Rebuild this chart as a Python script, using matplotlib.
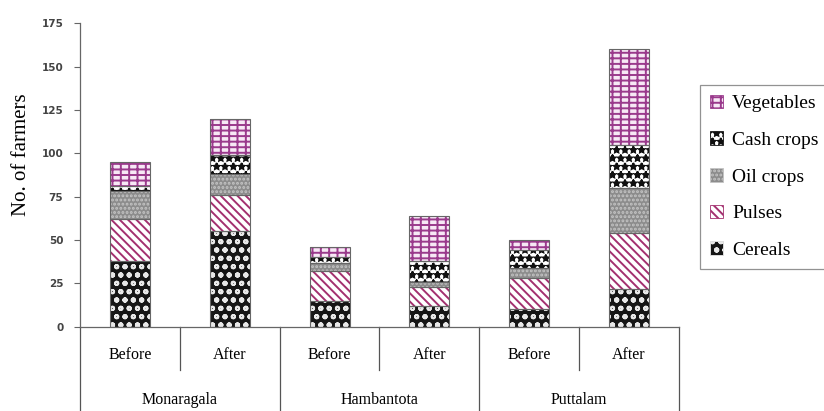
import matplotlib.pyplot as plt
import matplotlib as mpl
from matplotlib.patches import Patch

mpl.rcParams['hatch.linewidth'] = 1.4

# farmers per crop group, Before / After for each district
districts = ['Monaragala', 'Hambantota', 'Puttalam']
periods = ['Before', 'After']
cereals = [38, 55, 15, 12, 10, 22]
pulses = [24, 21, 17, 11, 18, 32]
oil_crops = [16, 12, 5, 3, 6, 26]
cash_crops = [3, 11, 3, 12, 10, 25]
vegetables = [14, 21, 6, 26, 6, 55]

# name, values, face, hatch, hatch colour
series = [
    ('Cereals', cereals, '#151515', 'oo', '#e8e8e8'),
    ('Pulses', pulses, 'white', '\\\\\\\\', '#a3306f'),
    ('Oil crops', oil_crops, '#8c8c8c', '....', '#c4c4c4'),
    ('Cash crops', cash_crops, 'white', '**', '#101010'),
    ('Vegetables', vegetables, '#f7e8f5', '++-', '#9a3a8c'),
]

serif = 'Liberation Serif'

fig = plt.figure(figsize=(8.24, 4.11), dpi=100)
ax = fig.add_axes([80 / 824, 84.3 / 411, 599 / 824, 303.4 / 411])

x = list(range(len(cereals)))
bottom = [0] * len(x)
handles = []
for name, vals, face, hatch, hc in series:
    ax.bar(x, vals, width=0.4, bottom=bottom, color=face, hatch=hatch,
           edgecolor=hc, linewidth=0, zorder=2)
    ax.bar(x, vals, width=0.4, bottom=bottom, fill=False,
           edgecolor='#666666', linewidth=0.8, zorder=3)
    bottom = [b + v for b, v in zip(bottom, vals)]
    handles.append(Patch(facecolor=face, hatch=hatch, edgecolor=hc, linewidth=0.6, label=name))

ax.set_xlim(-0.5, len(x) - 0.5)
ax.set_ylim(0, 175)
ax.set_yticks(range(0, 176, 25))
ax.tick_params(axis='y', length=4, width=0.8, color='#666666', pad=8,
               labelsize=7.5, labelcolor='#444444')
for lab in ax.get_yticklabels():
    lab.set_fontweight('bold')
ax.set_xticks([])
for s in ['top', 'right']:
    ax.spines[s].set_visible(False)
for s in ['left', 'bottom']:
    ax.spines[s].set_color('#666666')
    ax.spines[s].set_linewidth(0.9)

ax.set_ylabel('No. of farmers', family=serif, fontsize=15)
ax.yaxis.set_label_coords(-0.082, 0.566)

# two-level category table under the axis
trans = ax.get_xaxis_transform()
for i in range(len(x) + 1):
    low = -0.278 if i % 2 == 0 else -0.143
    ax.plot([i - 0.5, i - 0.5], [0, low], transform=trans, color='#555555',
            linewidth=0.9, clip_on=False)
for i in x:
    ax.text(i, -0.093, periods[i % 2], transform=trans, ha='center', va='center',
            family=serif, fontsize=11.5)
for j, d in enumerate(districts):
    ax.text(2 * j + 0.5, -0.243, d, transform=trans, ha='center', va='center',
            family=serif, fontsize=11.5)

leg = fig.legend(handles[::-1], [h.get_label() for h in handles[::-1]],
                 loc='upper left', bbox_to_anchor=(700 / 824, 1 - 85 / 411),
                 prop={'family': serif, 'size': 14}, frameon=True, fancybox=False,
                 edgecolor='#777777', handlelength=0.7, handleheight=0.7,
                 handletextpad=0.45, labelspacing=0.98, borderpad=0.5, borderaxespad=0)
leg.get_frame().set_linewidth(0.9)

fig.savefig('out.png', dpi=100)
